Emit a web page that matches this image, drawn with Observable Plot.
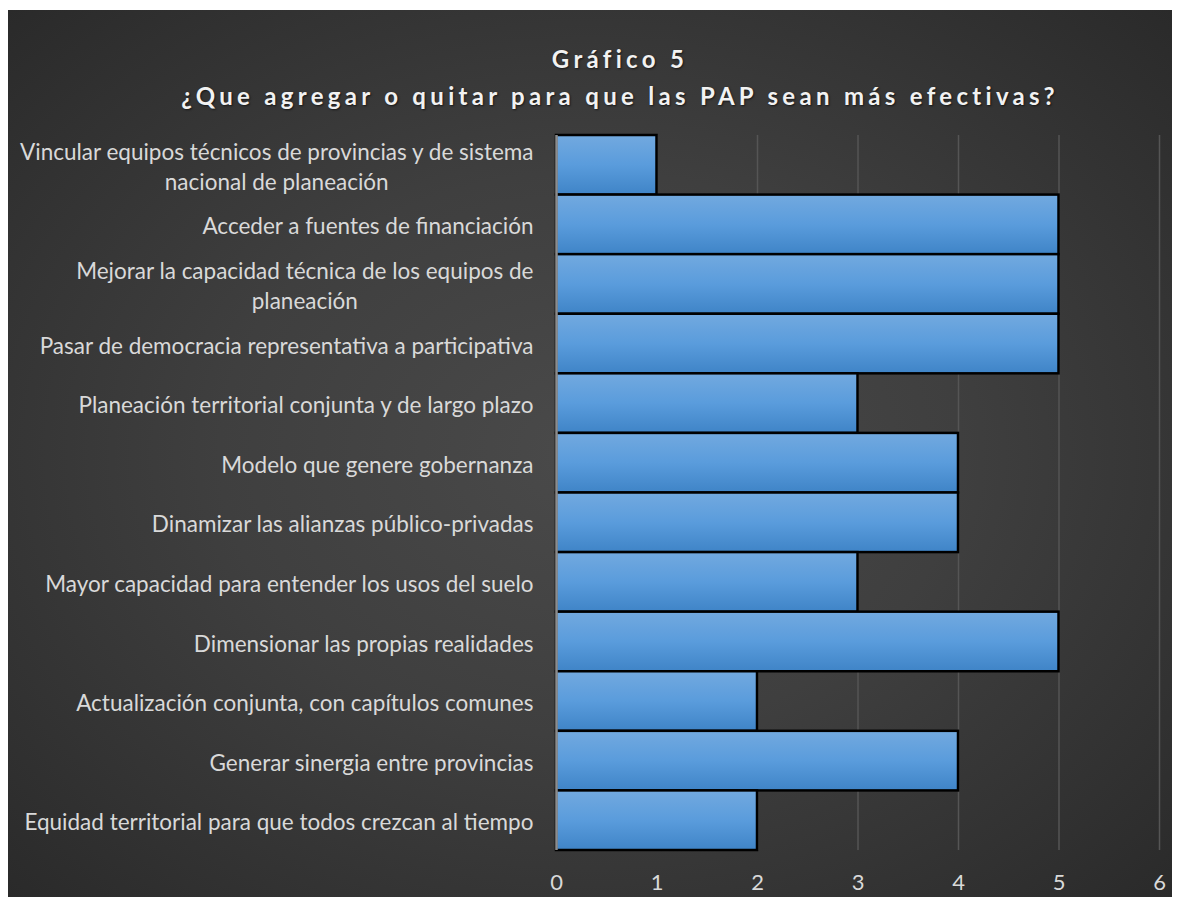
<!DOCTYPE html>
<html>
<head>
<meta charset="utf-8">
<script src="https://cdn.jsdelivr.net/npm/d3@7"></script>
<script src="https://cdn.jsdelivr.net/npm/@observablehq/plot@0.6"></script>
<style>
  html, body { margin: 0; padding: 0; background: #ffffff; }
  #frame {
    position: absolute; left: 8px; top: 10px; width: 1164px; height: 887px;
    background: radial-gradient(ellipse at 50% 50%, #4a4a4a 0%, #3f3f3f 45%, #2a2a2a 100%);
    overflow: hidden;
  }
  #title {
    position: absolute; left: 60px; top: 30px; width: 1104px;
    text-align: center; font-family: Lato, "Open Sans", sans-serif; font-weight: bold;
    font-size: 24px; line-height: 37px; letter-spacing: 4.3px; color: #f2f2f2;
    text-shadow: 1px 1px 2px rgba(0,0,0,0.6);
  }
  #chart { position: absolute; left: 0; top: 104px; }
</style>
</head>
<body>
<div id="frame">
  <div id="title">Gráfico 5<br>¿Que agregar o quitar para que las PAP sean más efectivas?</div>
  <div id="chart"></div>
</div>
<script>
const categories = [
  "Vincular equipos técnicos de provincias y de sistema\nnacional de planeación",
  "Acceder a fuentes de financiación",
  "Mejorar la capacidad técnica de los equipos de\nplaneación",
  "Pasar de democracia representativa a participativa",
  "Planeación territorial conjunta y de largo plazo",
  "Modelo que genere gobernanza",
  "Dinamizar las alianzas público-privadas",
  "Mayor capacidad para entender los usos del suelo",
  "Dimensionar las propias realidades",
  "Actualización conjunta, con capítulos comunes",
  "Generar sinergia entre provincias",
  "Equidad territorial para que todos crezcan al tiempo"
];
const values = [1, 5, 5, 5, 3, 4, 4, 3, 5, 2, 4, 2];
const xTicks = [0, 1, 2, 3, 4, 5, 6];
const gridTicks = [1, 2, 3, 4, 5, 6];

const data = categories.map((c, i) => ({category: c, value: values[i]}));

const defs = () => {
  const g = d3.create("svg:defs");
  const lg = g.append("linearGradient").attr("id", "barGrad").attr("x1", 0).attr("y1", 0).attr("x2", 0).attr("y2", 1);
  lg.append("stop").attr("offset", "0%").attr("stop-color", "#72a9df");
  lg.append("stop").attr("offset", "50%").attr("stop-color", "#5a9cdc");
  lg.append("stop").attr("offset", "100%").attr("stop-color", "#3f84c7");
  return g.node();
};

const chart = Plot.plot({
  width: 1164,
  height: 783,
  marginLeft: 548,
  marginRight: 13,
  marginTop: 21,
  marginBottom: 47,
  style: {background: "transparent", color: "#d9d9d9", fontFamily: "Lato, 'Open Sans', sans-serif", fontSize: "22.5px"},
  x: {domain: [0, 6]},
  y: {domain: categories, padding: 0, round: false},
  marks: [
    defs,
    Plot.ruleX(gridTicks, {stroke: "#555555", strokeWidth: 1.5}),
    Plot.barX(data, {
      y: "category", x: "value", fill: "url(#barGrad)", stroke: "#000000", strokeWidth: 2.5,
      style: {filter: "drop-shadow(3px 3px 3px rgba(0,0,0,0.45))"}
    }),
    Plot.ruleX([0], {stroke: "#8c8c8c", strokeWidth: 2.5}),
    Plot.axisX({ticks: xTicks, tickFormat: d => String(d), tickSize: 0, tickPadding: 24, label: null, fill: "#d9d9d9", fontSize: 22}),
    Plot.axisY({tickSize: 0, tickPadding: 23, label: null, fill: "#d9d9d9", fontSize: 22.5, lineHeight: 1.33})
  ]
});
document.getElementById("chart").appendChild(chart);

// center wrapped labels within their own block, as the original does
chart.querySelectorAll("g[aria-label='y-axis tick label'] text").forEach(t => {
  const spans = t.querySelectorAll("tspan");
  if (spans.length > 1) {
    let w = 0;
    spans.forEach(s => { w = Math.max(w, s.getComputedTextLength()); });
    t.setAttribute("text-anchor", "middle");
    spans.forEach(s => s.setAttribute("x", -w / 2));
  }
});
</script>
</body>
</html>
